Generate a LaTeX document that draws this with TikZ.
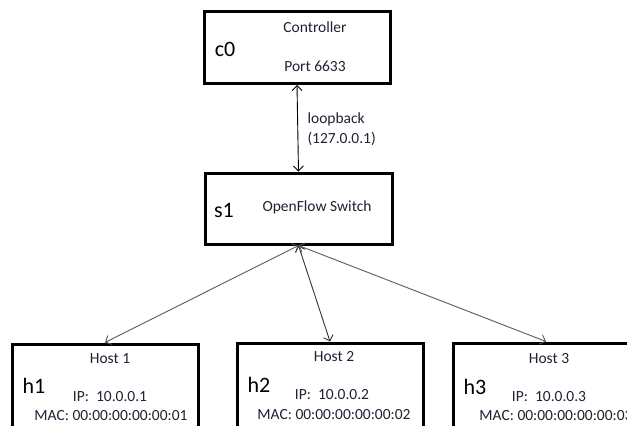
\documentclass[tikz,border=0pt]{standalone}
\usepackage{fontspec}
\setmainfont{Carlito}
\usepackage{tikz}
\usetikzlibrary{arrows.meta}
\usetikzlibrary{positioning}
\definecolor{txtcol}{RGB}{30,34,50}
\definecolor{linkgray}{RGB}{90,90,90}

\begin{document}
\begin{tikzpicture}
      [x=1pt,y=-1pt,
      >={Straight Barb[length=5pt,width=10pt]},
      box/.style={shape=rectangle,draw,line width=3pt,inner sep=0pt},
      tag/.style={font=\fontsize{22}{24}\selectfont},
      info/.style={font=\fontsize{15.5}{17}\selectfont,text=txtcol},
      link/.style={<->,line width=0.9pt}]
\useasboundingbox (0,0) rectangle (627,426);
\clip (0,0) rectangle (627,426);

% boxes
\node[box,minimum width=186pt,minimum height=72pt] (c0) at (297,47.5) {};
\node[box,minimum width=187pt,minimum height=71pt] (s1) at (298.5,208.5) {};
\node[box,minimum width=186pt,minimum height=100pt] (h1) at (105,394) {};
\node[box,minimum width=186pt,minimum height=100pt] (h2) at (330,393) {};
\node[box,minimum width=186pt,minimum height=100pt] (h3) at (546,393) {};

% texts
\node[tag] (c0tag) at (225,49) {c0};
\node[info] (ctrl) at (315,27) {Controller};
\node[info] (port) at (315,66) {Port 6633};
\node[tag] (s1tag) at (224,210) {s1};
\node[info] (ofs) at (317,207) {OpenFlow Switch};
\node[info,anchor=west] (lb1) at (304,119) {loopback};
\node[info,anchor=west] (lb2) at (304,139) {(127.0.0.1)};

\node[info] (host1) at (110,359) {Host 1};
\node[tag] (h1tag) at (34,386) {h1};
\node[info] (ip1) at (110,397) {IP:\ \ 10.0.0.1};
\node[info] (mac1) at (111,416) {MAC: 00:00:00:00:00:01};

\node[info] (host2) at (334,357) {Host 2};
\node[tag] (h2tag) at (259,385) {h2};
\node[info] (ip2) at (332,395) {IP:\ \ 10.0.0.2};
\node[info] (mac2) at (334,415) {MAC: 00:00:00:00:00:02};

\node[info] (host3) at (549,359) {Host 3};
\node[tag] (h3tag) at (475,387) {h3};
\node[info] (ip3) at (549,397) {IP:\ \ 10.0.0.3};
\node[info] (mac3) at (556,416) {MAC: 00:00:00:00:00:03};

% links
\draw[link] (c0.south) -- (s1.north);
\draw[link,draw=linkgray] (s1.south) -- (h1.north);
\draw[link,draw=black!80] (s1.south) -- (h2.north);
\draw[link,draw=linkgray] (s1.south) -- (h3.north);

\end{tikzpicture}
\end{document}
